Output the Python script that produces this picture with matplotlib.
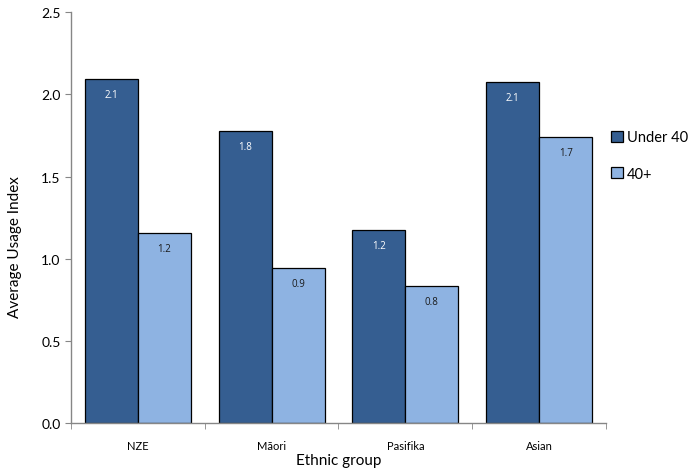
import numpy as np
import matplotlib.pyplot as plt

# Values
groups = ['NZE', 'Māori', 'Pasifika', 'Asian']
under40 = [2.094, 1.776, 1.174, 2.076]
over40 = [1.154, 0.943, 0.835, 1.738]
series_names = ['Under 40', '40+']

plt.rcParams['font.family'] = ['Lato', 'DejaVu Sans']

dark = '#355E91'
light = '#8EB3E2'
grey = '#868686'

fig = plt.figure(figsize=(6.91, 4.77), dpi=100)
ax = fig.add_axes([0.1027, 0.1111, 0.7743, 0.861])

x = np.arange(len(groups))
w = 0.397
b1 = ax.bar(x - w / 2, under40, w, color=dark, edgecolor='black', linewidth=0.9, label=series_names[0])
b2 = ax.bar(x + w / 2, over40, w, color=light, edgecolor='black', linewidth=0.9, label=series_names[1])

# data labels just inside the top of each bar
for bars, vals, col in [(b1, under40, 'white'), (b2, over40, '#1a1a1a')]:
    for r, v in zip(bars, vals):
        ax.annotate(f'{v:.1f}', (r.get_x() + r.get_width() / 2, v),
                    xytext=(0, -11), textcoords='offset points',
                    ha='center', va='center', fontsize=7, color=col,
                    family=['Open Sans', 'DejaVu Sans'])

ax.set_xlim(-0.5, len(groups) - 0.5)
ax.set_ylim(0, 2.5)
ax.set_yticks(np.arange(0, 2.51, 0.5))
ax.set_yticklabels([f'{t:.1f}' for t in np.arange(0, 2.51, 0.5)], fontsize=10)
ax.set_xticks(x)
ax.set_xticklabels(groups, fontsize=8)
ax.set_xticks(np.arange(-0.5, len(groups)), minor=True)
ax.tick_params(axis='x', which='major', length=0, pad=12)
ax.tick_params(axis='x', which='minor', length=4, color=grey, direction='out')
ax.tick_params(axis='y', length=4, color=grey, direction='out')

for s in ['top', 'right']:
    ax.spines[s].set_visible(False)
for s in ['left', 'bottom']:
    ax.spines[s].set_color(grey)
    ax.spines[s].set_linewidth(1)

ax.set_xlabel('Ethnic group', fontsize=11, labelpad=2)
ax.set_ylabel('Average Usage Index', fontsize=11, va='center')
ax.yaxis.set_label_coords(-0.104, 0.43)

ax.legend(loc='upper left', bbox_to_anchor=(0.985, 0.745), frameon=False,
          fontsize=10.5, handlelength=0.8, handleheight=0.8, handletextpad=0.3,
          labelspacing=1.55)

fig.savefig('out.png', dpi=100)
